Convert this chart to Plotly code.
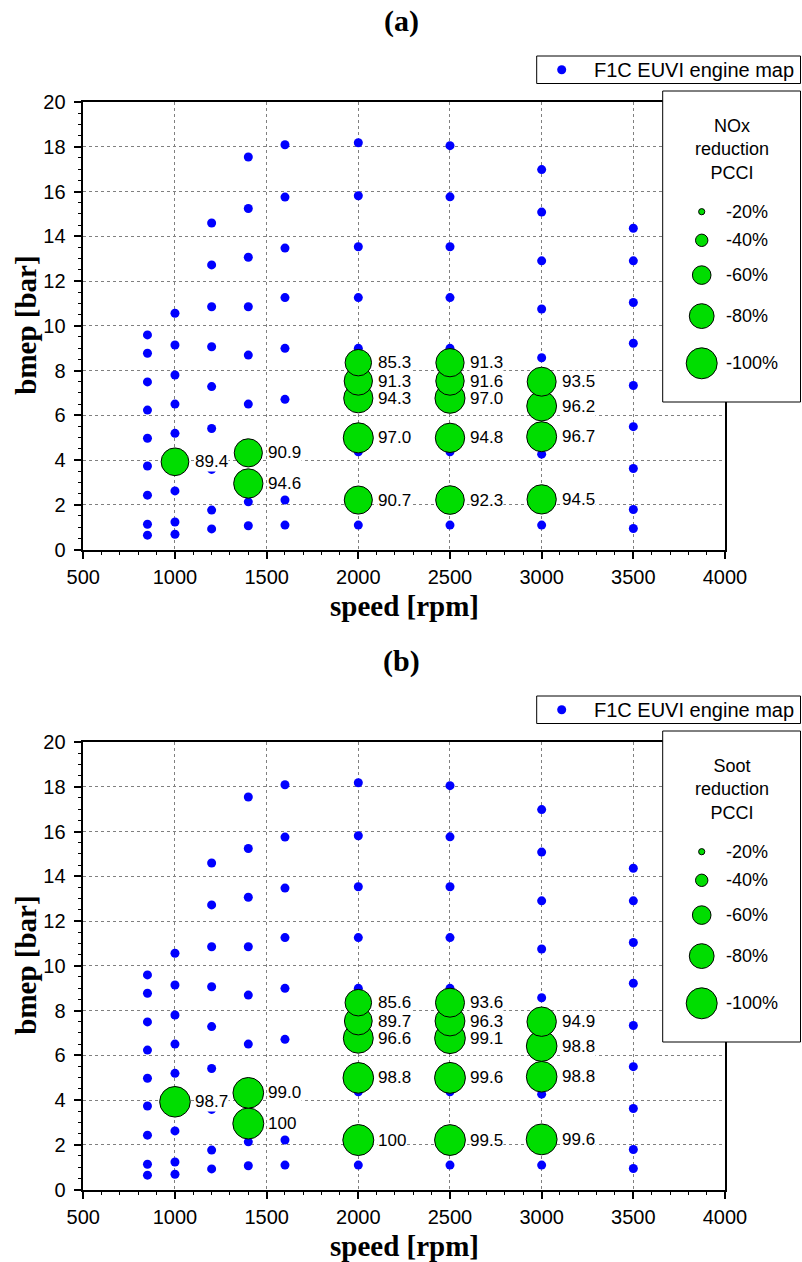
import plotly.graph_objects as go

# ---- engine map operating points (speed [rpm] -> bmep [bar]) ----
map_850 = [0.64, 1.13, 2.43, 3.73, 4.97, 6.23, 7.49, 8.77, 9.59]
map_1000 = [0.68, 1.23, 2.62, 5.19, 6.50, 7.80, 9.14, 10.56]
map_1200 = [0.92, 1.76, 3.58, 5.41, 7.28, 9.06, 10.85, 12.72, 14.59]
map_1400 = [1.06, 2.13, 6.50, 8.69, 10.85, 13.06, 15.24, 17.54]
map_1600 = [1.09, 2.21, 4.55, 6.71, 8.99, 11.26, 13.47, 15.75, 18.09]
map_2000 = [1.09, 4.37, 8.99, 11.26, 13.53, 15.81, 18.18]
map_2500 = [1.09, 4.37, 8.99, 11.26, 13.53, 15.76, 18.05]
map_3000 = [1.09, 4.26, 8.57, 10.75, 12.90, 15.08, 16.98]
map_3500 = [0.94, 1.79, 3.62, 5.49, 7.33, 9.22, 11.04, 12.90, 14.36]

map_columns = {
    850: map_850, 1000: map_1000, 1200: map_1200, 1400: map_1400, 1600: map_1600,
    2000: map_2000, 2500: map_2500, 3000: map_3000, 3500: map_3500,
}
map_speed = [s for s, col in map_columns.items() for _ in col]
map_bmep = [b for col in map_columns.values() for b in col]

# ---- PCCI operating points and emission reductions [%] ----
pcci_speed = [1000, 1400, 1400,
              2000, 2000, 2000, 2000, 2000,
              2500, 2500, 2500, 2500, 2500,
              3000, 3000, 3000, 3000]
pcci_bmep = [3.92, 2.95, 4.32,
             2.21, 4.99, 6.76, 7.53, 8.35,
             2.21, 4.99, 6.76, 7.53, 8.35,
             2.24, 5.04, 6.41, 7.50]
nox_reduction = [89.4, 94.6, 90.9,
                 90.7, 97.0, 94.3, 91.3, 85.3,
                 92.3, 94.8, 97.0, 91.6, 91.3,
                 94.5, 96.7, 96.2, 93.5]
soot_reduction = [98.7, 100, 99.0,
                  100, 98.8, 96.6, 89.7, 85.6,
                  99.5, 99.6, 99.1, 96.3, 93.6,
                  99.6, 98.8, 98.8, 94.9]

legend_pct = [20, 40, 60, 80, 100]
map_name = "F1C EUVI engine map"

# ---- styling ----
W, H = 802, 1262
ARIAL = "Arial, Liberation Sans, sans-serif"
TIMES = "Times New Roman, Liberation Serif, serif"
GREEN = "#00dd00"
BLUE = "#0000ff"
PX_PER_PCT = 0.31  # bubble diameter per percent reduction


def fx(x):
    return x / W


def fy(y):
    return 1 - y / H


def label(v):
    return "100" if v >= 100 else f"{v:.1f}"


fig = go.Figure()
annotations = []
shapes = []
layout_axes = {}

panels = [
    dict(tag="(a)", values=nox_reduction, title="NOx<br>reduction<br>PCCI", dy=0, n=1, aux=3),
    dict(tag="(b)", values=soot_reduction, title="Soot<br>reduction<br>PCCI", dy=640, n=2, aux=4),
]

PL, PR, PT, PB = 83.3, 725.0, 102.0, 549.5      # plot frame (page px)
AL, AR, AT, AB = 534.0, 802.0, 52.0, 405.0      # legend overlay region (page px)
KEY = dict(l=536.7, r=800.5, t=56.0, b=83.5)     # engine-map key box
SIZE = dict(l=662.7, r=800.5, t=91.0, b=402.0)   # bubble-size key box

for p in panels:
    dy = p["dy"]
    sfx = "" if p["n"] == 1 else str(p["n"])
    xa, ya = "x" + sfx, "y" + sfx

    # engine map points
    fig.add_trace(go.Scatter(
        x=map_speed, y=map_bmep, mode="markers", name=map_name,
        marker=dict(color=BLUE, size=9, opacity=1, line=dict(width=0)),
        xaxis=xa, yaxis=ya, showlegend=False,
    ))
    # reduction bubbles
    fig.add_trace(go.Scatter(
        x=pcci_speed, y=pcci_bmep, mode="markers",
        marker=dict(color=GREEN, opacity=1,
                    size=[v * PX_PER_PCT for v in p["values"]],
                    line=dict(color="black", width=1)),
        xaxis=xa, yaxis=ya, showlegend=False,
    ))
    for s, b, v in zip(pcci_speed, pcci_bmep, p["values"]):
        annotations.append(dict(
            x=s, y=b, xref=xa, yref=ya, text=label(v), showarrow=False,
            xanchor="left", yanchor="middle", xshift=19,
            font=dict(family=ARIAL, size=17, color="black"),
            bgcolor="white", borderpad=0,
        ))

    common = dict(
        showline=True, linecolor="black", linewidth=1.5, mirror=True,
        ticks="outside", ticklen=8, tickwidth=1.5, tickcolor="black",
        showgrid=True, gridcolor="#808080", gridwidth=1, griddash="3px,3px",
        zeroline=False, automargin=False, fixedrange=True,
        tickfont=dict(family=ARIAL, size=20, color="black"),
    )
    layout_axes["xaxis" + sfx] = dict(
        common, domain=[fx(PL), fx(PR)], range=[500, 4000], tick0=0, dtick=500,
        anchor=ya, ticklabelstandoff=1,
        minor=dict(dtick=100, ticks="outside", ticklen=4, tickwidth=1,
                   tickcolor="black", showgrid=False),
    )
    layout_axes["yaxis" + sfx] = dict(
        common, domain=[fy(PB + dy), fy(PT + dy)], range=[0, 20], tick0=0, dtick=2,
        anchor=xa, ticklabelstandoff=4,
        minor=dict(dtick=0.5, ticks="outside", ticklen=4, tickwidth=1,
                   tickcolor="black", showgrid=False),
    )

    # keys drawn in an overlay subplot whose units are page pixels
    xa3, ya3 = f"x{p['aux']}", f"y{p['aux']}"
    layout_axes[f"xaxis{p['aux']}"] = dict(
        domain=[fx(AL), fx(AR)], range=[AL, AR],
        visible=False, anchor=ya3, fixedrange=True)
    layout_axes[f"yaxis{p['aux']}"] = dict(
        domain=[fy(AB + dy), fy(AT + dy)], range=[AB, AT],
        visible=False, anchor=xa3, fixedrange=True)
    for box in (KEY, SIZE):
        shapes.append(dict(type="rect", xref=xa3, yref=ya3,
                           x0=box["l"], x1=box["r"], y0=box["t"], y1=box["b"],
                           line=dict(color="black", width=1), fillcolor="white",
                           layer="below"))

    # engine-map key entry
    key_y = (KEY["t"] + KEY["b"]) / 2
    fig.add_trace(go.Scatter(
        x=[KEY["l"] + 25], y=[key_y], mode="markers",
        marker=dict(color=BLUE, size=9, line=dict(width=0)),
        xaxis=xa3, yaxis=ya3, showlegend=False, cliponaxis=False,
    ))
    annotations.append(dict(
        x=KEY["l"] + 55, y=key_y, xref=xa3, yref=ya3, text=map_name,
        showarrow=False, xanchor="left", yanchor="middle",
        font=dict(family=ARIAL, size=20, color="black"),
    ))

    # bubble-size key
    diam = [v * PX_PER_PCT for v in legend_pct]
    ys = [SIZE["t"] + 120.7]
    for i in range(1, len(diam)):
        ys.append(ys[-1] + (diam[i - 1] + diam[i]) / 2 + 19.3)
    fig.add_trace(go.Scatter(
        x=[SIZE["l"] + 39] * len(legend_pct), y=ys, mode="markers",
        marker=dict(color=GREEN, opacity=1, size=diam,
                    line=dict(color="black", width=1)),
        xaxis=xa3, yaxis=ya3, showlegend=False, cliponaxis=False,
    ))
    for yy, v in zip(ys, legend_pct):
        annotations.append(dict(
            x=SIZE["l"] + 61, y=yy, xref=xa3, yref=ya3, text=f"-{v}%",
            showarrow=False, xanchor="left", yanchor="middle",
            font=dict(family=ARIAL, size=18, color="black"),
        ))
    annotations.append(dict(
        x=(SIZE["l"] + SIZE["r"]) / 2, y=SIZE["t"] + 58.3, xref=xa3, yref=ya3,
        text=p["title"], showarrow=False, xanchor="center", yanchor="middle",
        font=dict(family=ARIAL, size=18, color="black"),
    ))

    # panel tag and axis titles
    annotations.append(dict(
        x=fx(401), y=fy(21 + dy), xref="paper", yref="paper", text=p["tag"],
        showarrow=False, xanchor="center", yanchor="middle",
        font=dict(family=TIMES, size=30, color="black", weight="bold"),
    ))
    annotations.append(dict(
        x=fx((PL + PR) / 2), y=fy(606 + dy), xref="paper", yref="paper",
        text="speed [rpm]", showarrow=False, xanchor="center", yanchor="middle",
        font=dict(family=TIMES, size=29, color="black", weight="bold"),
    ))
    annotations.append(dict(
        x=fx(26), y=fy((PT + PB) / 2 + dy), xref="paper", yref="paper",
        text="bmep [bar]", showarrow=False, xanchor="center", yanchor="middle",
        textangle=-90,
        font=dict(family=TIMES, size=29, color="black", weight="bold"),
    ))

fig.update_layout(
    width=W, height=H, margin=dict(l=0, r=0, t=0, b=0),
    paper_bgcolor="white", plot_bgcolor="rgba(0,0,0,0)",
    annotations=annotations, shapes=shapes,
    showlegend=False, hovermode=False,
    **layout_axes,
)

fig.write_html("out.html")
